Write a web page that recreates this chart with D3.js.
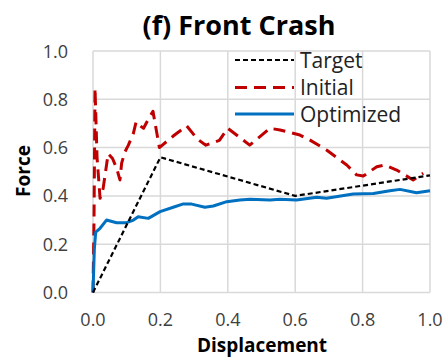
<!DOCTYPE html>
<html lang="en">
<head>
  <meta charset="UTF-8" />
  <title>(f) Front Crash</title>
  <script src="https://d3js.org/d3.v7.min.js"></script>
  <style>
    body {
      margin: 0;
      background: #fff;
      font-family: 'Open Sans', sans-serif;
    }
    .grid line {
      stroke: #d9d9d9;
      stroke-width: 1.5px;
      fill: none;
    }
    .tick-label {
      font-size: 18px;
      fill: #404040;
    }
    .axis-title {
      font-size: 19px;
      font-weight: bold;
      fill: #000;
    }
    .legend-label {
      font-size: 21px;
      fill: #222;
    }
  </style>
</head>
<body>
  <svg id="chart" width="447" height="359"></svg>

  <script>
    const xTicks = [0, 0.2, 0.4, 0.6, 0.8, 1.0];
    const yTicks = [0, 0.2, 0.4, 0.6, 0.8, 1.0];

    // target curve (piecewise linear)
    const targetX = [0, 0.2, 0.6, 1.0];
    const targetY = [0, 0.56, 0.40, 0.485];

    // initial design
    const initialX = [0, 0.003, 0.006, 0.012, 0.021, 0.03, 0.045, 0.058, 0.07, 0.08, 0.085, 0.095,
      0.105, 0.12, 0.128, 0.14, 0.15, 0.165, 0.178, 0.197, 0.24, 0.278, 0.31, 0.335, 0.375, 0.40,
      0.465, 0.525, 0.555, 0.614, 0.644, 0.693, 0.753, 0.782, 0.802, 0.842, 0.866, 0.901, 0.95, 0.98];
    const initialY = [0, 0.30, 0.845, 0.56, 0.39, 0.43, 0.575, 0.555, 0.515, 0.466, 0.536, 0.583,
      0.61, 0.66, 0.707, 0.69, 0.68, 0.72, 0.75, 0.60, 0.65, 0.69, 0.635, 0.61, 0.63, 0.68,
      0.61, 0.68, 0.673, 0.652, 0.631, 0.59, 0.528, 0.487, 0.482, 0.521, 0.528, 0.507, 0.466, 0.494];

    // optimized design
    const optimizedX = [0, 0.004, 0.008, 0.021, 0.04, 0.07, 0.1, 0.12, 0.134, 0.164, 0.199, 0.238,
      0.266, 0.293, 0.332, 0.357, 0.397, 0.436, 0.466, 0.525, 0.555, 0.604, 0.664, 0.693, 0.772,
      0.832, 0.881, 0.911, 0.96, 1.0];
    const optimizedY = [0, 0.18, 0.25, 0.266, 0.30, 0.289, 0.289, 0.30, 0.314, 0.307, 0.335, 0.353,
      0.366, 0.366, 0.353, 0.358, 0.376, 0.383, 0.386, 0.383, 0.386, 0.383, 0.394, 0.39, 0.408,
      0.41, 0.421, 0.427, 0.413, 0.421];

    const seriesNames = ["Target", "Initial", "Optimized"];

    const width = 447, height = 359;
    const margin = { top: 51, right: 17, bottom: 66.5, left: 93 };
    const svg = d3.select("#chart");

    const x = d3.scaleLinear().domain([0, 1]).range([margin.left, width - margin.right]);
    const y = d3.scaleLinear().domain([0, 1]).range([height - margin.bottom, margin.top]);

    // grid
    const grid = svg.append("g").attr("class", "grid");
    grid.selectAll(".vx").data(xTicks).enter().append("line")
      .attr("x1", d => x(d)).attr("x2", d => x(d))
      .attr("y1", y(0)).attr("y2", y(1));
    grid.selectAll(".hy").data(yTicks).enter().append("line")
      .attr("x1", x(0)).attr("x2", x(1))
      .attr("y1", d => y(d)).attr("y2", d => y(d));

    // tick labels
    svg.selectAll(".xl").data(xTicks).enter().append("text")
      .attr("class", "tick-label")
      .attr("x", d => x(d))
      .attr("y", y(0) + 33)
      .attr("text-anchor", "middle")
      .text(d => d.toFixed(1));
    svg.selectAll(".yl").data(yTicks).enter().append("text")
      .attr("class", "tick-label")
      .attr("x", x(0) - 25)
      .attr("y", d => y(d) + 6.5)
      .attr("text-anchor", "end")
      .text(d => d.toFixed(1));

    // titles
    svg.append("text")
      .attr("x", 239).attr("y", 35)
      .attr("text-anchor", "middle")
      .style("font-size", "27px").style("font-weight", "bold")
      .text("(f) Front Crash");
    svg.append("text")
      .attr("class", "axis-title")
      .attr("x", 262).attr("y", 352)
      .attr("text-anchor", "middle")
      .text("Displacement");
    svg.append("text")
      .attr("class", "axis-title")
      .attr("transform", "translate(30,171) rotate(-90)")
      .attr("text-anchor", "middle")
      .text("Force");

    const line = d3.line().x(d => x(d[0])).y(d => y(d[1]));
    const zip = (a, b) => a.map((v, i) => [v, b[i]]);

    const styles = [
      { color: "#000", width: 2.2, dash: "5,3" },
      { color: "#c00000", width: 3, dash: "12,7" },
      { color: "#0070c0", width: 3, dash: null }
    ];

    const series = [zip(initialX, initialY), zip(optimizedX, optimizedY), zip(targetX, targetY)];
    const order = [1, 2, 0];
    series.forEach((data, i) => {
      const s = styles[order[i]];
      svg.append("path")
        .datum(data)
        .attr("d", line)
        .attr("fill", "none")
        .attr("stroke", s.color)
        .attr("stroke-width", s.width)
        .attr("stroke-dasharray", s.dash)
        .attr("stroke-linejoin", "round");
    });

    // legend
    const legendY = [60, 87.5, 114];
    seriesNames.forEach((name, i) => {
      const s = styles[i];
      svg.append("line")
        .attr("x1", 235).attr("x2", 294)
        .attr("y1", legendY[i]).attr("y2", legendY[i])
        .attr("stroke", s.color)
        .attr("stroke-width", s.width)
        .attr("stroke-dasharray", s.dash);
      svg.append("text")
        .attr("class", "legend-label")
        .attr("x", 300).attr("y", legendY[i] + 7.5)
        .text(name);
    });
  </script>
</body>
</html>
